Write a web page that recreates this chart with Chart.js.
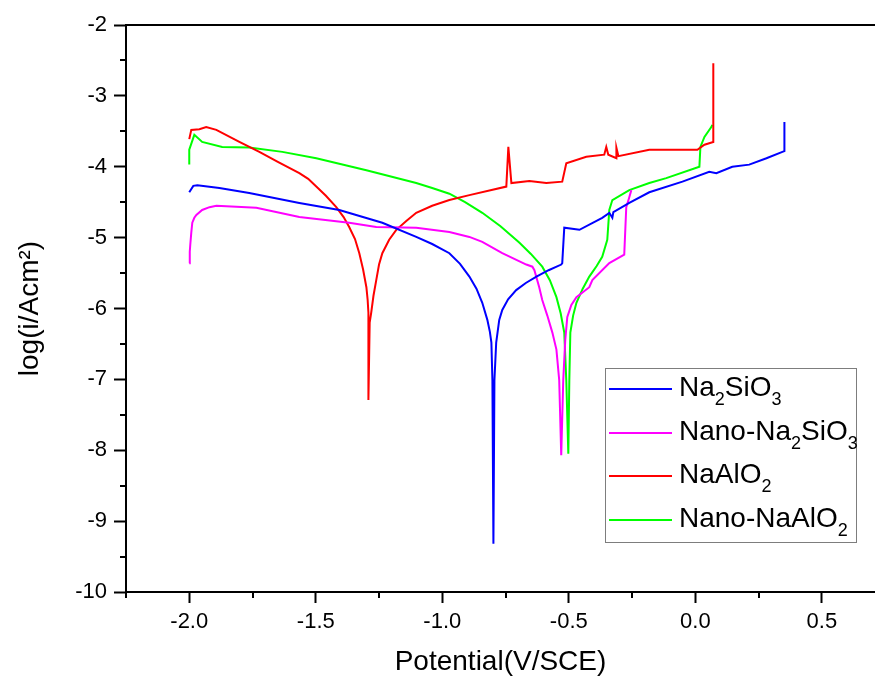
<!DOCTYPE html>
<html>
<head>
<meta charset="utf-8">
<script src="https://cdn.jsdelivr.net/npm/chart.js@4.4.1/dist/chart.umd.min.js"></script>
<style>
    body { margin: 0; background: #fff; }
    #wrap { position: relative; width: 875px; height: 679px; }
    .legend {
        position: absolute; left: 605px; top: 368px; width: 250px; height: 173px;
        border: 1px solid #7d7d7d; font-family: "Liberation Sans", Arial, sans-serif;
        font-size: 28px; color: #000;
    }
    .legend .row { position: absolute; left: 0; height: 44px; width: 100%; }
    .legend .swatch { position: absolute; left: 3px; width: 63px; height: 2px; top: 18px; }
    .legend .label { position: absolute; left: 73px; top: 0; line-height: 34px; white-space: nowrap; }
    .legend sub { font-size: 18px; vertical-align: -9px; line-height: 0; }
</style>
</head>
<body>
<div id="wrap">
    <canvas id="myChart" width="875" height="679"></canvas>
    <div class="legend" id="legend"></div>
</div>
<script>
// potential (V/SCE) and log(i) for each coating bath
const na2sio3E = [-2.000, -1.984, -1.968, -1.881, -1.763, -1.565, -1.407, -1.237, -1.103, -1.040, -0.972, -0.930, -0.893, -0.865, -0.842, -0.822, -0.812, -0.806, -0.802, -0.798, -0.794, -0.787, -0.775, -0.763, -0.740, -0.708, -0.670, -0.628, -0.580, -0.530, -0.526, -0.518, -0.458, -0.368, -0.340, -0.328, -0.324, -0.261, -0.182, -0.051, 0.055, 0.083, 0.146, 0.213, 0.281, 0.344, 0.352, 0.352];
const na2sio3Log = [-4.36, -4.27, -4.26, -4.30, -4.37, -4.51, -4.61, -4.79, -4.99, -5.09, -5.22, -5.37, -5.55, -5.72, -5.92, -6.16, -6.33, -6.48, -7.01, -9.32, -7.01, -6.48, -6.16, -6.02, -5.87, -5.74, -5.64, -5.55, -5.46, -5.38, -5.36, -4.86, -4.89, -4.72, -4.65, -4.72, -4.64, -4.51, -4.36, -4.21, -4.07, -4.09, -4.00, -3.97, -3.88, -3.79, -3.78, -3.37];

const nanoNa2sio3E = [-2.000, -1.998, -1.996, -1.992, -1.988, -1.980, -1.972, -1.949, -1.920, -1.893, -1.735, -1.565, -1.368, -1.261, -1.103, -0.972, -0.893, -0.842, -0.763, -0.668, -0.644, -0.636, -0.617, -0.605, -0.585, -0.565, -0.549, -0.538, -0.530, -0.522, -0.514, -0.506, -0.490, -0.470, -0.419, -0.407, -0.340, -0.281, -0.273, -0.261, -0.253];
const nanoNa2sio3Log = [-5.36, -5.20, -5.10, -4.93, -4.79, -4.72, -4.68, -4.61, -4.57, -4.55, -4.58, -4.71, -4.79, -4.85, -4.86, -4.92, -4.99, -5.06, -5.22, -5.38, -5.41, -5.46, -5.70, -5.88, -6.10, -6.34, -6.58, -7.01, -8.07, -7.01, -6.44, -6.12, -5.95, -5.84, -5.70, -5.60, -5.36, -5.24, -4.57, -4.43, -4.33];

const naalo2E = [-2.000, -1.992, -1.960, -1.933, -1.893, -1.802, -1.723, -1.650, -1.565, -1.530, -1.498, -1.460, -1.419, -1.390, -1.368, -1.345, -1.328, -1.313, -1.300, -1.295, -1.292, -1.292, -1.287, -1.281, -1.272, -1.261, -1.250, -1.237, -1.210, -1.182, -1.140, -1.103, -1.040, -0.972, -0.893, -0.747, -0.739, -0.727, -0.656, -0.589, -0.526, -0.510, -0.431, -0.360, -0.352, -0.344, -0.312, -0.312, -0.304, -0.182, 0.008, 0.036, 0.071, 0.071];
const naalo2Log = [-3.61, -3.48, -3.47, -3.44, -3.48, -3.65, -3.79, -3.93, -4.09, -4.17, -4.28, -4.41, -4.57, -4.71, -4.85, -5.02, -5.22, -5.45, -5.70, -5.88, -6.06, -7.29, -6.20, -6.06, -5.82, -5.60, -5.38, -5.22, -5.03, -4.89, -4.76, -4.65, -4.55, -4.47, -4.40, -4.28, -3.72, -4.23, -4.20, -4.23, -4.21, -3.95, -3.86, -3.83, -3.72, -3.83, -3.88, -3.73, -3.85, -3.76, -3.76, -3.69, -3.65, -2.54];

const nanoNaalo2E = [-2.000, -2.000, -1.980, -1.949, -1.870, -1.763, -1.632, -1.498, -1.300, -1.103, -1.040, -0.972, -0.910, -0.842, -0.770, -0.696, -0.650, -0.605, -0.575, -0.549, -0.532, -0.518, -0.510, -0.502, -0.498, -0.494, -0.483, -0.470, -0.445, -0.419, -0.390, -0.368, -0.348, -0.340, -0.328, -0.261, -0.182, -0.115, 0.016, 0.020, 0.036, 0.063, 0.067];
const nanoNaalo2Log = [-3.97, -3.76, -3.55, -3.65, -3.72, -3.73, -3.79, -3.88, -4.05, -4.23, -4.30, -4.38, -4.50, -4.65, -4.84, -5.07, -5.23, -5.41, -5.60, -5.84, -6.07, -6.34, -7.01, -8.05, -7.01, -6.34, -6.10, -5.92, -5.72, -5.55, -5.40, -5.27, -5.03, -4.61, -4.47, -4.33, -4.23, -4.16, -4.00, -3.72, -3.58, -3.44, -3.41];

const seriesNames = ['Na<sub>2</sub>SiO<sub>3</sub>', 'Nano-Na<sub>2</sub>SiO<sub>3</sub>', 'NaAlO<sub>2</sub>', 'Nano-NaAlO<sub>2</sub>'];
const seriesColors = ['#0000ff', '#ff00ff', '#ff0000', '#00ff00'];

const xMajor = [-2.0, -1.5, -1.0, -0.5, 0.0, 0.5];
const xMinor = [-2.25, -1.75, -1.25, -0.75, -0.25, 0.25];
const yMajor = [-2, -3, -4, -5, -6, -7, -8, -9, -10];
const yMinor = [-2.5, -3.5, -4.5, -5.5, -6.5, -7.5, -8.5, -9.5];

const fontFamily = '"Liberation Sans", Arial, sans-serif';

function toPoints(xs, ys) {
    return xs.map((x, i) => ({ x: x, y: ys[i] }));
}

function createDataset(color, xs, ys) {
    return {
        data: toPoints(xs, ys),
        borderColor: color,
        backgroundColor: color,
        borderWidth: 2,
        pointRadius: 0,
        tension: 0,
        fill: false
    };
}

// short outward ticks between the labelled ones
const minorTicks = {
    id: 'minorTicks',
    afterDraw(chart) {
        const ctx = chart.ctx;
        const xs = chart.scales.x;
        const ys = chart.scales.y;
        ctx.save();
        ctx.strokeStyle = '#000';
        ctx.lineWidth = 2;
        ctx.beginPath();
        xMinor.forEach(v => {
            const px = Math.round(xs.getPixelForValue(v));
            if (px < xs.left - 1 || px > xs.right) return;
            ctx.moveTo(px, ys.bottom);
            ctx.lineTo(px, ys.bottom + 6);
        });
        yMinor.forEach(v => {
            const py = Math.round(ys.getPixelForValue(v));
            ctx.moveTo(xs.left, py);
            ctx.lineTo(xs.left - 6, py);
        });
        ctx.stroke();
        ctx.restore();
    }
};

const ctx = document.getElementById('myChart');

new Chart(ctx, {
    type: 'line',
    data: {
        datasets: [
            createDataset(seriesColors[0], na2sio3E, na2sio3Log),
            createDataset(seriesColors[1], nanoNa2sio3E, nanoNa2sio3Log),
            createDataset(seriesColors[2], naalo2E, naalo2Log),
            createDataset(seriesColors[3], nanoNaalo2E, nanoNaalo2Log)
        ]
    },
    options: {
        responsive: false,
        animation: false,
        layout: { padding: 0 },
        plugins: {
            legend: { display: false },
            tooltip: { enabled: false }
        },
        scales: {
            x: {
                type: 'linear',
                position: 'bottom',
                min: -2.25,
                max: 0.71,
                afterBuildTicks: scale => { scale.ticks = xMajor.map(v => ({ value: v })); },
                afterFit: scale => { scale.height = 87; },
                ticks: {
                    callback: v => v.toFixed(1),
                    font: { family: fontFamily, size: 22 },
                    color: '#000',
                    padding: 6,
                    maxRotation: 0
                },
                grid: {
                    drawOnChartArea: false,
                    tickLength: 11,
                    tickWidth: 2,
                    tickColor: '#000'
                },
                border: { display: true, color: '#000', width: 2 },
                title: {
                    display: true,
                    text: 'Potential(V/SCE)',
                    font: { family: fontFamily, size: 28 },
                    color: '#000',
                    padding: { top: 0, bottom: 0 }
                }
            },
            xTop: {
                type: 'linear',
                position: 'top',
                min: -2.25,
                max: 0.71,
                afterFit: scale => { scale.height = 25; },
                ticks: { display: false },
                grid: { drawOnChartArea: false, drawTicks: false },
                border: { display: true, color: '#000', width: 2 }
            },
            y: {
                type: 'linear',
                min: -10,
                max: -2,
                afterBuildTicks: scale => { scale.ticks = yMajor.map(v => ({ value: v })); },
                afterFit: scale => { scale.width = 126; },
                ticks: {
                    callback: v => String(v),
                    font: { family: fontFamily, size: 22 },
                    color: '#000',
                    padding: 7
                },
                grid: {
                    drawOnChartArea: false,
                    tickLength: 12,
                    tickWidth: 2,
                    tickColor: '#000'
                },
                border: { display: true, color: '#000', width: 2 },
                title: {
                    display: true,
                    text: 'log(i/Acm²)',
                    font: { family: fontFamily, size: 28 },
                    color: '#000',
                    padding: { top: 13, bottom: 0 }
                }
            }
        }
    },
    plugins: [minorTicks]
});

// legend box with chemical subscripts
const legend = document.getElementById('legend');
seriesNames.forEach((name, i) => {
    const row = document.createElement('div');
    row.className = 'row';
    row.style.top = (i * 43.5 + 1) + 'px';
    const swatch = document.createElement('span');
    swatch.className = 'swatch';
    swatch.style.background = seriesColors[i];
    const label = document.createElement('span');
    label.className = 'label';
    label.innerHTML = name;
    row.appendChild(swatch);
    row.appendChild(label);
    legend.appendChild(row);
});
</script>
</body>
</html>
